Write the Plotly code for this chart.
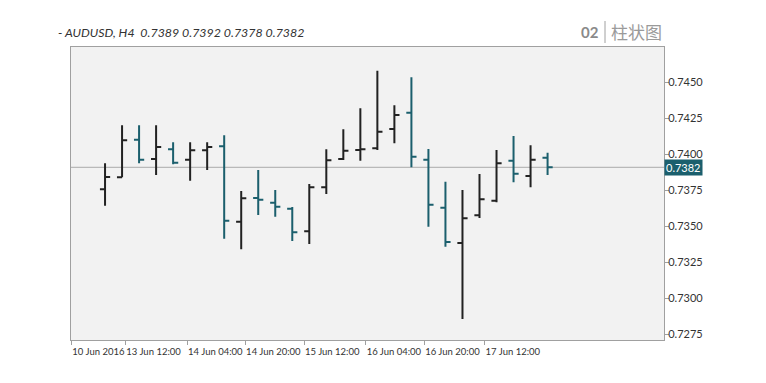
import plotly.graph_objects as go

# ---- data (AUDUSD, H4) ----
bar_index = list(range(27))
opens = [0.73756, 0.73840, 0.74101, 0.73967, 0.74034, 0.73962, 0.74027, 0.74055, 0.73531,
         0.73696, 0.73663, 0.73621, 0.73464, 0.73770, 0.73967, 0.74030, 0.74041, 0.74175,
         0.74289, 0.73962, 0.73628, 0.73383, 0.73575, 0.73677, 0.73955, 0.73849, 0.73976]
highs = [0.73937, 0.74201, 0.74201, 0.74201, 0.74083, 0.74083, 0.74083, 0.74132, 0.73744,
         0.73890, 0.73751, 0.73633, 0.73793, 0.74034, 0.74173, 0.74319, 0.74581, 0.74340,
         0.74535, 0.74036, 0.73809, 0.73751, 0.73862, 0.74029, 0.74127, 0.74062, 0.74011]
lows = [0.73642, 0.73840, 0.73937, 0.73856, 0.73930, 0.73816, 0.73890, 0.73413, 0.73339,
        0.73577, 0.73566, 0.73397, 0.73376, 0.73723, 0.73960, 0.73955, 0.74029, 0.74076,
        0.73909, 0.73496, 0.73357, 0.72854, 0.73557, 0.73666, 0.73805, 0.73770, 0.73856]
closes = [0.73842, 0.74097, 0.73962, 0.74050, 0.73941, 0.74027, 0.74050, 0.73538, 0.73694,
          0.73684, 0.73635, 0.73457, 0.73770, 0.73958, 0.74024, 0.74035, 0.74157, 0.74273,
          0.73983, 0.73649, 0.73390, 0.73554, 0.73687, 0.73937, 0.73865, 0.73962, 0.73909]

x_tick_at = [-1.98, 1.19, 4.82, 8.23, 11.69, 15.31, 18.75, 22.3]
x_tick_labels = ["10 Jun 2016", "13 Jun 12:00", "14 Jun 04:00", "14 Jun 20:00",
                 "15 Jun 12:00", "16 Jun 04:00", "16 Jun 20:00", "17 Jun 12:00"]
y_tick_vals = [0.7275, 0.7300, 0.7325, 0.7350, 0.7375, 0.7400, 0.7425, 0.7450]
y_tick_labels = ["0.7275", "0.7300", "0.7325", "0.7350", "0.7375", "0.7400", "0.7425", "0.7450"]

symbol = "AUDUSD, H4"
title_ohlc = ["0.7389", "0.7392", "0.7378", "0.7382"]
last_price_label = "0.7382"

TEAL = "#1b5f6d"
DARK = "#222222"
FONT = "Lato, 'Open Sans', sans-serif"

W, H = 766, 383
L, R, T, B = 71, 664, 47, 340


def px(xp):
    return (xp - L) / (R - L)


def py(yp):
    return (B - yp) / (B - T)


fig = go.Figure()
fig.add_trace(go.Ohlc(
    x=bar_index, open=opens, high=highs, low=lows, close=closes,
    increasing=dict(line=dict(color=DARK, width=2)),
    decreasing=dict(line=dict(color=TEAL, width=2)),
    tickwidth=0.3, showlegend=False, hoverinfo="skip",
))

last_close = closes[-1]
fig.add_shape(type="line", xref="paper", x0=0, x1=1, yref="y", y0=last_close, y1=last_close,
              line=dict(color="#aaaaaa", width=1), layer="below")
fig.add_annotation(xref="paper", x=1, xanchor="left", yref="y", y=last_close, yanchor="middle",
                   text=last_price_label, showarrow=False, bgcolor=TEAL, borderpad=1,
                   font=dict(color="white", size=11, family=FONT), xshift=0)

# header: left title
fig.add_annotation(xref="paper", yref="paper", x=px(56), y=py(33), xanchor="left", yanchor="middle",
                   text="<i>- " + symbol + "  " + " ".join(title_ohlc) + "</i>", showarrow=False,
                   font=dict(size=12.4, color="#333333", family=FONT))
# header: right side "02 | 柱状图"
fig.add_annotation(xref="paper", yref="paper", x=px(579), y=py(32), xanchor="left", yanchor="middle",
                   text="<b>02</b>", showarrow=False,
                   font=dict(size=15, color="#8a8a8a", family=FONT))
fig.add_shape(type="line", xref="paper", yref="paper", x0=px(605), x1=px(605), y0=py(21), y1=py(43),
              line=dict(color="#a0a0a0", width=1))
fig.add_annotation(xref="paper", yref="paper", x=px(609), y=py(32), xanchor="left", yanchor="middle",
                   text="柱状图", showarrow=False,
                   font=dict(size=17, color="#9a9a9a", family="Noto Sans CJK SC"))

fig.update_layout(
    width=W, height=H,
    margin=dict(l=L, r=W - R, t=T, b=H - B, autoexpand=False),
    paper_bgcolor="white", plot_bgcolor="#f2f2f2",
    xaxis=dict(range=[-2, 32.84], showgrid=False, zeroline=False, showline=True, mirror=True,
               linecolor="#a0a0a0", linewidth=1, ticks="outside", ticklen=4, tickcolor="#a0a0a0",
               tickvals=x_tick_at, ticktext=x_tick_labels, ticklabelposition="outside right",
               tickangle=0, automargin=False, ticklabelstandoff=3,
               tickfont=dict(size=9.5, color="#333333", family=FONT),
               rangeslider=dict(visible=False), fixedrange=True),
    yaxis=dict(range=[0.727083, 0.747455], side="right", showgrid=False, zeroline=False,
               showline=True, mirror=True, linecolor="#a0a0a0", linewidth=1,
               ticks="outside", ticklen=4, tickcolor="#a0a0a0", automargin=False,
               tickvals=y_tick_vals, ticktext=y_tick_labels, ticklabelstandoff=-3,
               tickfont=dict(size=11, color="#333333", family=FONT), fixedrange=True),
)

fig.write_html("out.html", config=dict(displayModeBar=False),
               post_script="document.body.style.margin='0';document.body.style.overflow='hidden';")
